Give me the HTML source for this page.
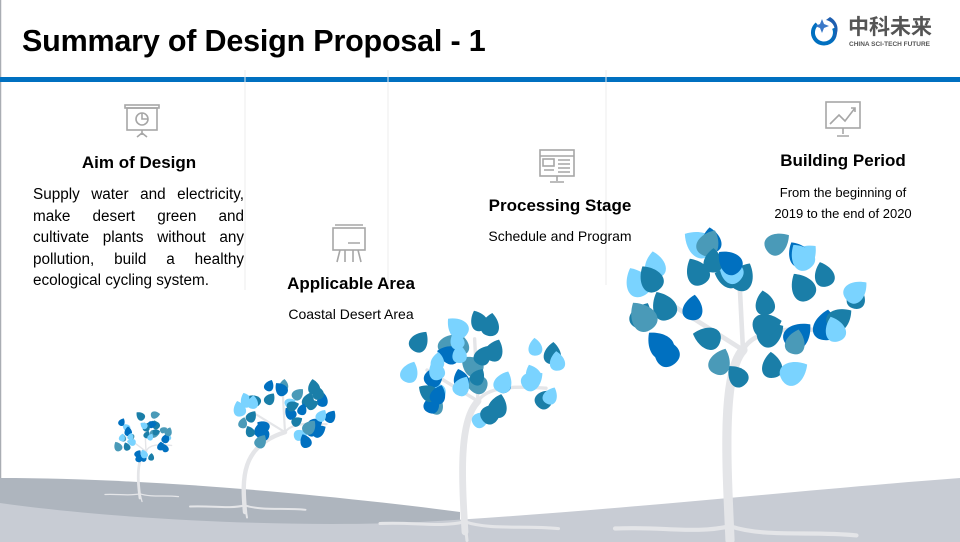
<!DOCTYPE html>
<html><head><meta charset="utf-8"><style>
html,body{margin:0;padding:0;background:#fff}
#w{position:relative;width:960px;height:542px;overflow:hidden;font-family:"Liberation Sans",sans-serif;color:#000}
.t{position:absolute;white-space:nowrap}
.h{font-weight:bold;font-size:17px;transform:translateX(-50%)}
.s{font-size:14px;transform:translateX(-50%)}
.j{position:absolute;left:33px;width:211px;font-size:15.3px;text-align:justify;text-align-last:justify;white-space:nowrap}
</style></head><body><div id="w">
<svg id="g" width="960" height="542" style="position:absolute;left:0;top:0">
<line x1="0.5" y1="0" x2="0.5" y2="542" stroke="#a9adb3" stroke-width="1.5"/>
<rect x="0" y="77" width="960" height="5" fill="#0070c0"/>
<g stroke="#ececec" stroke-width="1"><line x1="245" y1="70" x2="245" y2="290"/><line x1="388" y1="70" x2="388" y2="290"/><line x1="606" y1="70" x2="606" y2="285"/></g>
<path d="M0 478 C150 478 330 495 460 512 L460 542 L0 542Z" fill="#aeb5be"/>
<path d="M0 503 C120 520 300 528 420 522 C600 512 800 490 960 478 L960 542 L0 542Z" fill="#c8ccd4"/>
<path d="M817 24 A11 11 0 1 0 834 28" fill="none" stroke="#0070c0" stroke-width="4"/>
<path d="M826 20 C836 22 838 34 830 42 C838 38 842 24 830 17Z" fill="#1e5fb0"/>
<path d="M815 26 l5 -2 l2 -5 l2 5 l5 2 l-5 2 l-2 5 l-2 -5z" fill="#3a78c8"/>
<g fill="none" stroke="#a6a6a6" stroke-width="1.6">
<rect x="125" y="105" width="34" height="3"/><rect x="127" y="108" width="30" height="22"/><circle cx="142" cy="119" r="6"/><path d="M142 113 v6 h6"/><path d="M142 130 v5 M142 133 l-5 4 M142 133 l5 4"/>
<rect x="333" y="228" width="32" height="22"/><path d="M335 225 h28 M340 250 l-3 12 M358 250 l3 12 M345 250 v12 M353 250 v12 M348 243 h12"/>
<rect x="540" y="150" width="34" height="26"/><path d="M540 156 h34 M557 176 v5 M550 182 h14"/><rect x="543" y="159" width="11" height="7"/><path d="M544 170 h10 M558 160 h12 M558 164 h12 M558 168 h12 M558 172 h12"/>
<rect x="826" y="102" width="34" height="26"/><path d="M843 128 v6 M837 136 h12 M830 124 l9 -9 l6 6 l10 -13 M851 108 h4 v4"/>
</g>
<g id="trees"></g>
</svg>
<div class="t" style="left:22px;top:24px;font-size:30.5px;font-weight:bold;letter-spacing:-0.2px">Summary of Design Proposal - 1</div>
<div class="t" style="left:848px;top:17px;font-size:21px;line-height:1;font-weight:bold;color:#555;font-family:'Liberation Sans','Noto Sans CJK SC',sans-serif">中科未来</div>
<div class="t" style="left:849px;top:41px;font-size:6.5px;font-weight:bold;color:#555">CHINA SCI-TECH FUTURE</div>
<div class="t h" style="left:139px;top:153px">Aim of Design</div>
<div class="j" style="top:186px">Supply water and electricity,</div>
<div class="j" style="top:208px">make desert green and</div>
<div class="j" style="top:229px">cultivate plants without any</div>
<div class="j" style="top:251px">pollution, build a healthy</div>
<div class="j" style="top:272px;text-align-last:left">ecological cycling system.</div>
<div class="t h" style="left:351px;top:274px">Applicable Area</div>
<div class="t s" style="left:351px;top:306px">Coastal Desert Area</div>
<div class="t h" style="left:560px;top:196px">Processing Stage</div>
<div class="t s" style="left:560px;top:228px">Schedule and Program</div>
<div class="t h" style="left:843px;top:151px">Building Period</div>
<div class="t" style="left:843px;top:182px;font-size:13px;line-height:21px;text-align:center;transform:translateX(-50%)">From the beginning of<br>2019 to the end of 2020</div>
</div>
<script>
var seed=11;function r(){seed=(seed*16807)%2147483647;return seed/2147483647;}
var cols=["#0070c0","#1a7ea8","#7ad3ff","#0070c0","#1a7ea8","#4a9ab8","#7ad3ff"];
var T=[[140,498,146,437,32,24,0.35],[245,512,285,413,52,32,0.55],[465,532,478,370,85,52,0.85],[730,540,743,305,118,75,1.15]];
var s="";
T.forEach(function(t){var bx=t[0],by=t[1],cx=t[2],cy=t[3],rx=t[4],ry=t[5],k=t[6];
 var w=8*k;
 s+='<g fill="none" stroke="#e4e5e8" stroke-linecap="round">';
 s+='<path d="M'+bx+' '+by+' C'+(bx-3)+' '+(by-60*k)+' '+(bx-8*k)+' '+(cy+60*k)+' '+cx+' '+(cy+ry*0.6)+'" stroke-width="'+w+'"/>';
 s+='<path d="M'+cx+' '+(cy+ry*0.6)+' L'+(cx-rx*0.6)+' '+(cy)+' M'+cx+' '+(cy+ry*0.6)+' C'+(cx+10*k)+' '+(cy+20*k)+' '+(cx+rx*0.4)+' '+(cy+ry*0.3)+' '+(cx+rx*0.8)+' '+(cy+ry*0.35)+' M'+cx+' '+(cy+ry*0.6)+' L'+(cx-4*k)+' '+(cy-ry*0.6)+'" stroke-width="'+(w*0.5)+'"/>';
 s+='<path d="M'+bx+' '+(by-12*k)+' C'+(bx-30*k)+' '+(by-5*k)+' '+(bx-60*k)+' '+(by-12*k)+' '+(bx-100*k)+' '+(by-10*k)+' M'+bx+' '+(by-12*k)+' C'+(bx+30*k)+' '+(by-2*k)+' '+(bx+70*k)+' '+(by-8*k)+' '+(bx+110*k)+' '+(by-4*k)+' M'+bx+' '+(by-12*k)+' L'+(bx+2)+' '+(by+10*k)+'" stroke-width="'+(w*0.45)+'"/>';
 s+='</g>';
 var n=Math.round(30+8*k);
 for(var i=0;i<n;i++){var a=r()*6.283,d=Math.sqrt(r());var x=cx+Math.cos(a)*rx*d,y=cy+Math.sin(a)*ry*d;
  var L=(14+r()*6)*k*1.45,W=L*0.8,ang=(r()-0.5)*120+(x<cx?-20:20);var c=cols[Math.floor(r()*cols.length)];
  s+='<path transform="translate('+x.toFixed(1)+' '+y.toFixed(1)+') rotate('+ang.toFixed(0)+')" d="M0 '+(-L/2)+' C'+(W*0.65)+' '+(-L*0.1)+' '+(W*0.65)+' '+(L/2)+' 0 '+(L/2)+' C'+(-W*0.65)+' '+(L/2)+' '+(-W*0.65)+' '+(-L*0.1)+' 0 '+(-L/2)+'Z" fill="'+c+'"/>';}
});
document.getElementById("trees").innerHTML=s;
</script>
</body></html>
